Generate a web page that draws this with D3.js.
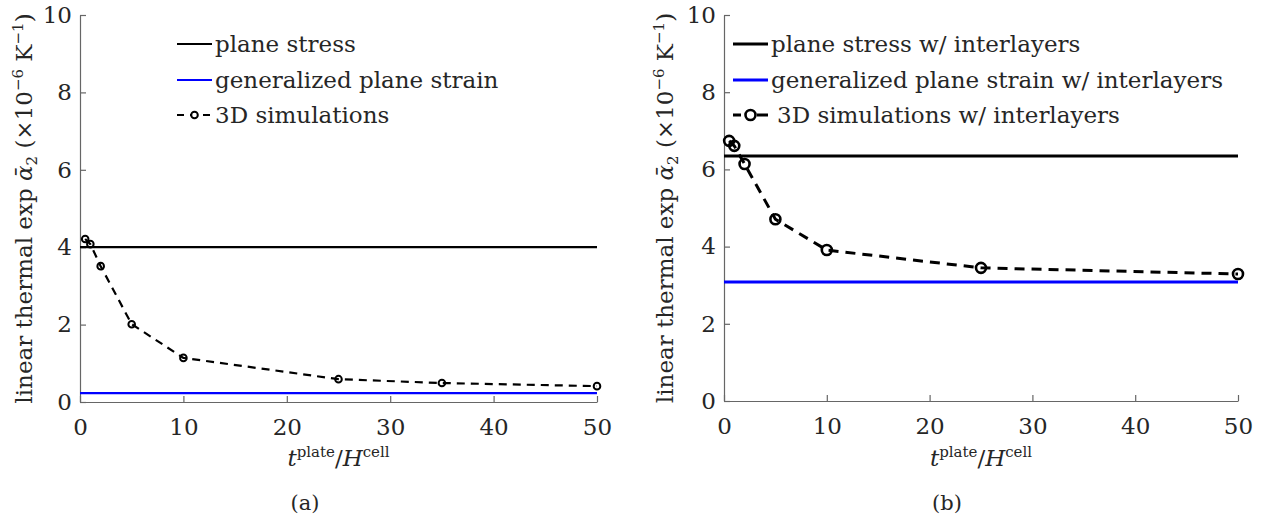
<!DOCTYPE html>
<html>
<head>
<meta charset="utf-8">
<script src="https://cdn.jsdelivr.net/npm/d3@7"></script>
<style>
  body { margin: 0; background: #fff; }
  svg text { font-family: "DejaVu Serif", serif; fill: #262626; }
</style>
</head>
<body>
<svg id="fig" width="1266" height="522"></svg>
<script>
// data
var xTicks = [0, 10, 20, 30, 40, 50],
  yTicks = [0, 2, 4, 6, 8, 10];

// (a) without interlayers
var tPlateA = [0.5, 1, 2, 5, 10, 25, 35, 50],
  sim3dA = [4.21, 4.08, 3.51, 2.01, 1.14, 0.59, 0.49, 0.41],
  planeStressA = 4.0,
  genPlaneStrainA = 0.23,
  legendA = ["plane stress", "generalized plane strain", "3D simulations"];

// (b) with interlayers
var tPlateB = [0.5, 1, 2, 5, 10, 25, 50],
  sim3dB = [6.74, 6.61, 6.14, 4.71, 3.91, 3.45, 3.29],
  planeStressB = 6.35,
  genPlaneStrainB = 3.08,
  legendB = ["plane stress w/ interlayers", "generalized plane strain w/ interlayers", "3D simulations w/ interlayers"];

var svg = d3.select("#fig"),
  fontSize = 23;

drawPanel({
  left: 80, right: 597, top: 15, bottom: 402,
  t: tPlateA, sim: sim3dA, stress: planeStressA, strain: genPlaneStrainA,
  legend: legendA, legendX: 177, legendGap: 0, legendDash: "7,6",
  lw: 2.2, markR: 3.3, markW: 2, dash: "8,6",
  ylabX: 32, caption: "(a)", capX: 305
});

drawPanel({
  left: 724, right: 1238, top: 15, bottom: 401,
  t: tPlateB, sim: sim3dB, stress: planeStressB, strain: genPlaneStrainB,
  legend: legendB, legendX: 733, legendGap: 6, legendDash: "8,16,11",
  lw: 3, markR: 5, markW: 2.6, dash: "10,7",
  ylabX: 673, caption: "(b)", capX: 947
});

function drawPanel(p) {
  var x = d3.scaleLinear().domain([0, 50]).range([p.left, p.right]),
    y = d3.scaleLinear().domain([0, 10]).range([p.bottom, p.top]),
    g = svg.append("g");

  // axes, matlab style ticks pointing in
  var xAxis = g.append("g")
    .attr("transform", "translate(0," + p.bottom + ")")
    .call(d3.axisBottom(x).tickValues(xTicks).tickSizeInner(-6).tickSizeOuter(0).tickPadding(17));
  var yAxis = g.append("g")
    .attr("transform", "translate(" + p.left + ",0)")
    .call(d3.axisLeft(y).tickValues(yTicks).tickSizeInner(-6).tickSizeOuter(0).tickPadding(8));
  [xAxis, yAxis].forEach(function (a) {
    a.select(".domain").attr("stroke", "#666").attr("stroke-width", 1.2);
    a.selectAll(".tick line").attr("stroke", "#666").attr("stroke-width", 1.2);
    a.selectAll(".tick text")
      .attr("font-family", "DejaVu Serif")
      .attr("font-size", fontSize)
      .attr("fill", "#262626");
  });

  var line = d3.line().x(function (d) { return x(d[0]); }).y(function (d) { return y(d[1]); });

  // reference lines over the full x range
  g.append("path")
    .attr("d", line(x.domain().map(function (v) { return [v, p.stress]; })))
    .attr("fill", "none").attr("stroke", "#000").attr("stroke-width", p.lw);
  g.append("path")
    .attr("d", line(x.domain().map(function (v) { return [v, p.strain]; })))
    .attr("fill", "none").attr("stroke", "#0000ff").attr("stroke-width", p.lw);

  // 3D simulation curve
  var pts = p.t.map(function (v, i) { return [v, p.sim[i]]; });
  g.append("path")
    .attr("d", line(pts))
    .attr("fill", "none").attr("stroke", "#000")
    .attr("stroke-width", p.lw).attr("stroke-dasharray", p.dash);
  g.selectAll("circle.pt").data(pts).enter().append("circle")
    .attr("class", "pt")
    .attr("cx", function (d) { return x(d[0]); })
    .attr("cy", function (d) { return y(d[1]); })
    .attr("r", p.markR)
    .attr("fill", "none").attr("stroke", "#000").attr("stroke-width", p.markW);

  // legend
  var rowY = [44, 80, 115],
    colors = ["#000", "#0000ff", "#000"];
  p.legend.forEach(function (lab, i) {
    var ly = rowY[i];
    var seg = g.append("line")
      .attr("x1", p.legendX).attr("x2", p.legendX + 35)
      .attr("y1", ly).attr("y2", ly)
      .attr("stroke", colors[i]).attr("stroke-width", p.lw);
    if (i == 2) {
      seg.attr("stroke-dasharray", p.legendDash);
      g.append("circle")
        .attr("cx", p.legendX + 17.5).attr("cy", ly).attr("r", p.markR)
        .attr("fill", "#fff").attr("stroke", "#000").attr("stroke-width", p.markW);
    }
    g.append("text")
      .attr("x", p.legendX + 38 + (i == 2 ? p.legendGap : 0))
      .attr("y", ly + 8)
      .attr("font-size", fontSize)
      .attr("fill", "#000")
      .text(lab);
  });

  // x label: t^plate / H^cell
  var xl = g.append("text")
    .attr("x", (p.left + p.right) / 2)
    .attr("y", 466)
    .attr("text-anchor", "middle")
    .attr("font-size", fontSize);
  xl.append("tspan").attr("font-style", "italic").text("t");
  xl.append("tspan").attr("font-size", 15).attr("dy", -9).text("plate");
  xl.append("tspan").attr("dy", 9).text("/");
  xl.append("tspan").attr("font-style", "italic").text("H");
  xl.append("tspan").attr("font-size", 15).attr("dy", -9).text("cell");

  // y label
  var yl = g.append("text")
    .attr("transform", "translate(" + p.ylabX + "," + ((p.top + p.bottom) / 2) + ") rotate(-90)")
    .attr("text-anchor", "middle")
    .attr("font-size", fontSize);
  yl.append("tspan").text("linear thermal exp ");
  yl.append("tspan").attr("font-style", "italic").text("\u1FB1");
  yl.append("tspan").attr("font-size", 15).attr("dy", 5).text("2");
  yl.append("tspan").attr("dy", -5).text(" (\u00D710");
  yl.append("tspan").attr("font-size", 15).attr("dy", -9).text("\u22126");
  yl.append("tspan").attr("dy", 9).text(" K");
  yl.append("tspan").attr("font-size", 15).attr("dy", -9).text("\u22121");
  yl.append("tspan").attr("dy", 9).text(")");

  // subfigure caption
  g.append("text")
    .attr("x", p.capX).attr("y", 510)
    .attr("text-anchor", "middle")
    .attr("font-size", fontSize - 2)
    .text(p.caption);
}
</script>
</body>
</html>
